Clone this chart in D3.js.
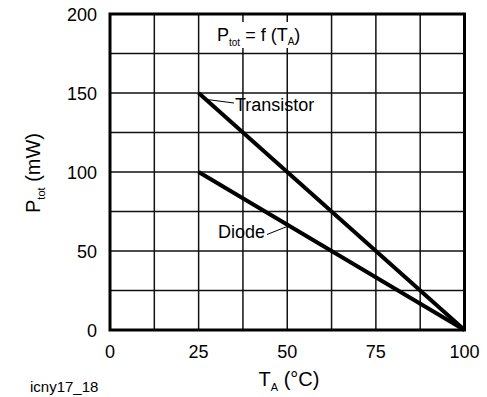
<!DOCTYPE html>
<html lang="en">
<head>
    <meta charset="UTF-8">
    <title>Ptot vs TA</title>
    <script src="https://d3js.org/d3.v7.min.js"></script>
    <style>
        body { margin: 0; background: #fff; }
        text { font-family: "Liberation Sans", Arial, sans-serif; fill: #000; }
    </style>
</head>
<body>
    <script>
        // Data
        const xTicks = [0, 25, 50, 75, 100];
        const yTicks = [0, 50, 100, 150, 200];
        const transistorT = [25, 100];
        const transistorP = [150, 0];
        const diodeT = [25, 100];
        const diodeP = [100, 0];

        const width = 487, height = 397;
        const plotLeft = 110, plotRight = 464.5, plotTop = 14, plotBottom = 330;

        const svg = d3.select("body").append("svg")
            .attr("width", width)
            .attr("height", height);

        const x = d3.scaleLinear().domain([0, 100]).range([plotLeft, plotRight]);
        const y = d3.scaleLinear().domain([0, 200]).range([plotBottom, plotTop]);

        // Grid
        const grid = svg.append("g").attr("stroke", "#111").attr("stroke-width", 1.5);
        grid.selectAll(".gx").data(d3.range(12.5, 100, 12.5)).enter().append("line")
            .attr("x1", d => x(d)).attr("x2", d => x(d))
            .attr("y1", plotTop).attr("y2", plotBottom);
        grid.selectAll(".gy").data(d3.range(25, 200, 25)).enter().append("line")
            .attr("x1", plotLeft).attr("x2", plotRight)
            .attr("y1", d => y(d)).attr("y2", d => y(d));

        // Formula label with white background
        svg.append("rect")
            .attr("x", 212).attr("y", 22).attr("width", 96).attr("height", 26)
            .attr("fill", "#fff");
        const f = svg.append("text").attr("x", 217).attr("y", 41).attr("font-size", 18);
        f.append("tspan").text("P");
        f.append("tspan").attr("font-size", 10).attr("dy", 5).text("tot");
        f.append("tspan").attr("dy", -5).text(" = f (T");
        f.append("tspan").attr("font-size", 10).attr("dy", 4).text("A");
        f.append("tspan").attr("dy", -4).text(")");

        // Frame
        svg.append("rect")
            .attr("x", plotLeft).attr("y", plotTop)
            .attr("width", plotRight - plotLeft).attr("height", plotBottom - plotTop)
            .attr("fill", "none").attr("stroke", "#000").attr("stroke-width", 3);

        // Curves
        const line = d3.line().x(d => x(d[0])).y(d => y(d[1]));
        [[transistorT, transistorP], [diodeT, diodeP]].forEach(([t, p]) => {
            svg.append("path")
                .datum(t.map((v, i) => [v, p[i]]))
                .attr("d", line)
                .attr("fill", "none")
                .attr("stroke", "#000")
                .attr("stroke-width", 4);
        });

        // Annotations
        svg.append("line")
            .attr("x1", x(27)).attr("y1", y(146))
            .attr("x2", 234).attr("y2", 103)
            .attr("stroke", "#000").attr("stroke-width", 1);
        svg.append("text").attr("x", 235).attr("y", 111).attr("font-size", 18).text("Transistor");

        svg.append("line")
            .attr("x1", 267).attr("y1", 234.5)
            .attr("x2", x(50.5)).attr("y2", y(66))
            .attr("stroke", "#000").attr("stroke-width", 1);
        svg.append("text").attr("x", 218).attr("y", 238).attr("font-size", 18).text("Diode");

        // Tick labels
        svg.selectAll(".xt").data(xTicks).enter().append("text")
            .attr("x", d => x(d)).attr("y", 358)
            .attr("text-anchor", "middle").attr("font-size", 18)
            .text(d => d);
        svg.selectAll(".yt").data(yTicks).enter().append("text")
            .attr("x", 97).attr("y", d => y(d) + 6.5)
            .attr("text-anchor", "end").attr("font-size", 18)
            .text(d => d);

        // Axis titles
        const xt = svg.append("text").attr("x", 289).attr("y", 386)
            .attr("text-anchor", "middle").attr("font-size", 20);
        xt.append("tspan").text("T");
        xt.append("tspan").attr("font-size", 11).attr("dy", 5).text("A");
        xt.append("tspan").attr("dy", -5).text(" (°C)");

        const yt = svg.append("text")
            .attr("transform", "translate(40,173) rotate(-90)")
            .attr("text-anchor", "middle").attr("font-size", 20);
        yt.append("tspan").text("P");
        yt.append("tspan").attr("font-size", 11).attr("dy", 5).text("tot");
        yt.append("tspan").attr("dy", -5).text(" (mW)");

        svg.append("text").attr("x", 30).attr("y", 392).attr("font-size", 15).text("icny17_18");
    </script>
</body>
</html>
